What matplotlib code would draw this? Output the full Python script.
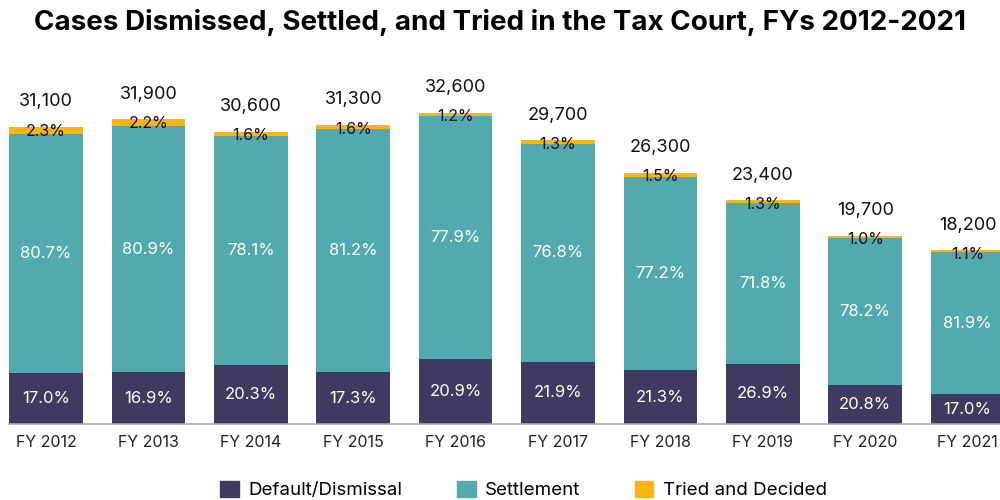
import numpy as np
import matplotlib
matplotlib.use("Agg")
import matplotlib.pyplot as plt
from matplotlib.patches import Patch

plt.rcParams['font.family'] = ['Inter', 'DejaVu Sans']

# --- Data ---
years = ['FY 2012', 'FY 2013', 'FY 2014', 'FY 2015', 'FY 2016',
         'FY 2017', 'FY 2018', 'FY 2019', 'FY 2020', 'FY 2021']
totals = [31100, 31900, 30600, 31300, 32600, 29700, 26300, 23400, 19700, 18200]
pct_default = [17.0, 16.9, 20.3, 17.3, 20.9, 21.9, 21.3, 26.9, 20.8, 17.0]
pct_settle = [80.7, 80.9, 78.1, 81.2, 77.9, 76.8, 77.2, 71.8, 78.2, 81.9]
pct_tried = [2.3, 2.2, 1.6, 1.6, 1.2, 1.3, 1.5, 1.3, 1.0, 1.1]

c_default = '#3f3a60'
c_settle = '#52aaae'
c_tried = '#fdb515'

tot = np.array(totals, dtype=float)
v_def = tot * np.array(pct_default) / 100
v_set = tot * np.array(pct_settle) / 100
v_tri = tot * np.array(pct_tried) / 100

x = np.arange(len(years))
w = 0.72

fig = plt.figure(figsize=(10, 5), dpi=100)
ax = fig.add_axes([0, 0.152, 1, 0.728])

ax.bar(x, v_def, w, color=c_default)
ax.bar(x, v_set, w, bottom=v_def, color=c_settle)
ax.bar(x, v_tri, w, bottom=v_def + v_set, color=c_tried)

for i in range(len(x)):
    ax.text(x[i], v_def[i] / 2, f'{pct_default[i]:.1f}%', ha='center', va='center',
            color='white', fontsize=12)
    ax.text(x[i], v_def[i] + v_set[i] / 2, f'{pct_settle[i]:.1f}%', ha='center', va='center',
            color='white', fontsize=12)
    ax.annotate(f'{pct_tried[i]:.1f}%', (x[i], tot[i]), xytext=(0, -3),
                textcoords='offset points', ha='center', va='center',
                color='#111111', fontsize=11.5)
    ax.annotate(f'{totals[i]:,}', (x[i], tot[i]), xytext=(0, 18),
                textcoords='offset points', ha='center', va='center',
                color='#111111', fontsize=13)

ax.set_xlim(-46 / 102.4, 954 / 102.4)
ax.set_ylim(0, 38100)
ax.set_xticks(x)
ax.set_xticklabels(years, fontsize=11.5, color='#222222')
ax.tick_params(axis='x', length=0, pad=8)
ax.set_yticks([])
for s in ['top', 'left', 'right']:
    ax.spines[s].set_visible(False)
ax.spines['bottom'].set_color('#aaaaaa')
ax.spines['bottom'].set_linewidth(1.2)
ax.spines['bottom'].set_bounds(-w / 2, 9.4)

fig.text(0.5, 0.956, 'Cases Dismissed, Settled, and Tried in the Tax Court, FYs 2012-2021',
         ha='center', va='center', fontsize=20, fontweight='bold', color='black')

handles = [Patch(color=c_default, label='Default/Dismissal'),
           Patch(color=c_settle, label='Settlement'),
           Patch(color=c_tried, label='Tried and Decided')]
fig.legend(handles=handles, loc='center', bbox_to_anchor=(0.5235, 0.02), ncol=3,
           frameon=False, fontsize=13.5, handlelength=1.0, handleheight=1.0,
           columnspacing=2.9, handletextpad=0.5)

fig.savefig('out.png', dpi=100)
